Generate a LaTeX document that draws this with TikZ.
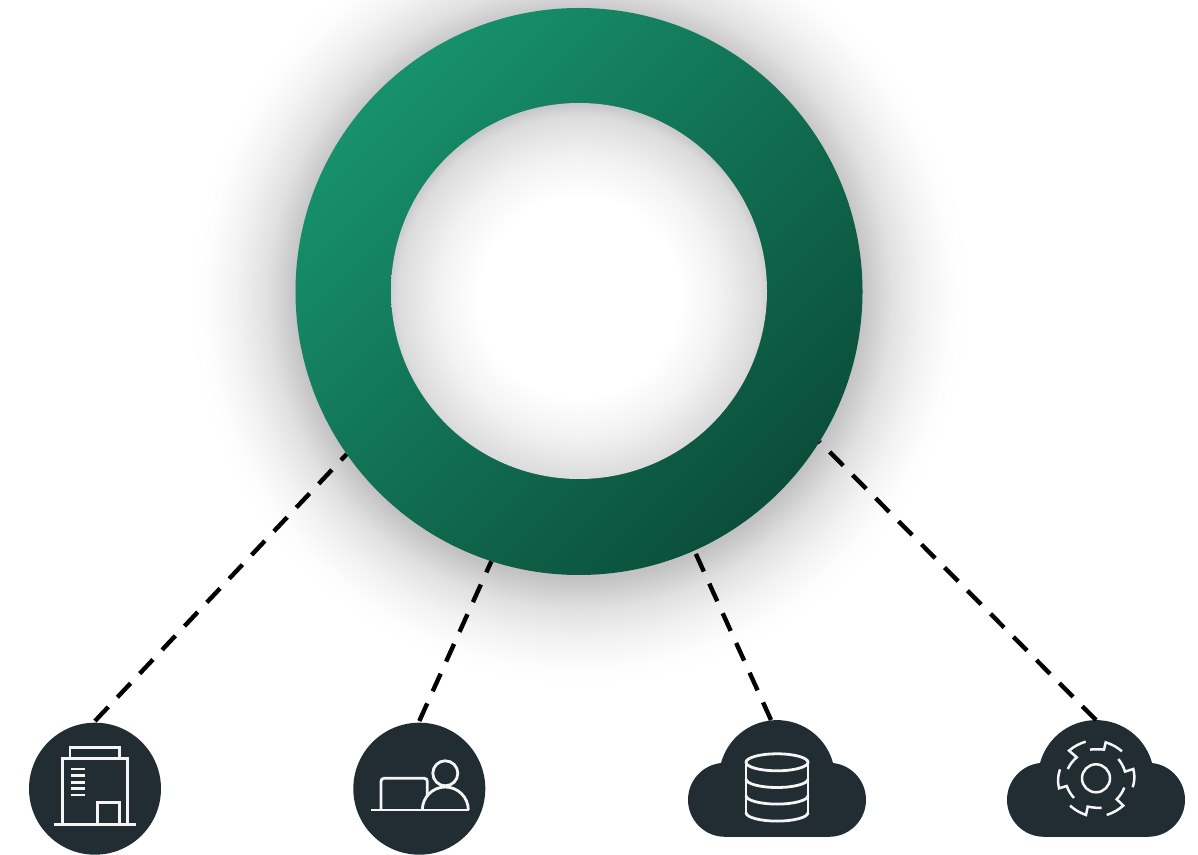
\documentclass[tikz,border=0pt]{standalone}
\usepackage{xcolor}
\usetikzlibrary{calc,positioning}
\definecolor{ringLight}{RGB}{23,145,108}
\definecolor{ringDark}{RGB}{11,78,57}
\definecolor{iconDark}{RGB}{34,44,51}
\definecolor{iconLine}{RGB}{245,245,245}
% Soft shadow around the ring and inside its hole
\pgfdeclareradialshading{ringglow}{\pgfpoint{0cm}{0cm}}{%
  color(0bp)=(black!24); color(18bp)=(black!24); color(20bp)=(black!12);
  color(22bp)=(black!5); color(23.8bp)=(black!1); color(25bp)=(white); color(50bp)=(white)}
\pgfdeclareradialshading{holeglow}{\pgfpoint{0cm}{0cm}}{%
  color(0bp)=(white); color(12.5bp)=(white); color(17.5bp)=(black!5);
  color(22.7bp)=(black!14); color(24.2bp)=(black!22); color(25bp)=(black!24); color(50bp)=(black!24)}
\tikzset{%
  % Specifications for style of nodes:
  glow/.style = {circle, inner sep=0pt, minimum size=780pt, shading=ringglow},
  ringbase/.style = {circle, inner sep=0pt, minimum size=567pt,
    left color=ringLight, right color=ringDark, shading angle=45},
  ringhole/.style = {circle, inner sep=0pt, minimum size=376pt, path picture={
    \shade[shading=holeglow] ([yshift=-6pt]path picture bounding box.center) circle[radius=200pt];}},
  disc/.style = {circle, inner sep=0pt, minimum size=132pt, fill=iconDark},
  dashline/.style = {line width=4.4pt, black, dash pattern=on 19.3pt off 13.3pt},
  iconstroke/.style = {draw=iconLine, line width=2.8pt},
  cloudicon/.pic = {
    \fill[iconDark] (-52,-58.2) arc[start angle=270, delta angle=-174, radius=37]
      -- (-56,15.5) arc[start angle=165, delta angle=-150, radius=58]
      -- (55.87,15.6) arc[start angle=84, delta angle=-174, radius=37] -- cycle;
  },
}
\begin{document}
\begin{tikzpicture}[x=1pt,y=1pt]
  \useasboundingbox (0,0) rectangle (1198,854);
  % Specification of nodes (position, etc.)
  \node(Glow)[glow] at (579,557){};
  \node(Ring)[ringbase] at (579,562.5){};
  \node(Hole)[ringhole] at (579,563){};
  \node(Office)[disc] at (95,65.3){};
  \node(Desk)[disc] at (419.3,65.3){};
  \pic at (777,75.4) {cloudicon};
  \pic at (1096,75.4) {cloudicon};
  \coordinate(Data) at (771,134);
  \coordinate(Gear) at (1096,134);
  % Connectors
  \draw[dashline]([yshift=1.5pt]Office.north) -- (Ring.215.8);
  \draw[dashline]([yshift=1.5pt]Desk.north) -- (Ring.252.6);
  \draw[dashline](Data) -- (Ring.294.1);
  \draw[dashline](Gear) -- (Ring.328.3);
  % Office building
  \begin{scope}[shift={(Office.center)}, iconstroke]
    \draw (-41,-35.6) -- (40.7,-35.6);
    \draw (-32.3,-35.6) -- (-32.3,30.4) -- (32.3,30.4) -- (32.3,-35.6);
    \draw (-25,30.4) -- (-25,41.4) -- (24.3,41.4) -- (24.3,30.4);
    \draw (2.3,-35.6) -- (2.3,-13.6) -- (24.3,-13.6) -- (24.3,-35.6);
    \foreach \wy in {19.7,13,6.4,0.4,-6.3}
      \draw (-24.3,\wy) -- (-10,\wy);
  \end{scope}
  % Person at a laptop
  \begin{scope}[shift={(Desk.center)}, iconstroke]
    \draw (-48.3,-21.3) -- (50,-21.3);
    \draw[rounded corners=3pt] (-38.3,-21.3) -- (-38.3,10.4) -- (8,10.4) -- (8,-7.3);
    \draw (26,15.4) circle[radius=12.5];
    \draw (3,-21.3) arc[start angle=180, end angle=0, radius=23];
  \end{scope}
  % Database
  \begin{scope}[shift={(777,75.4)}, iconstroke]
    \draw (0,16.3) ellipse[x radius=31, y radius=8.5];
    \draw (-31,16.3) -- (-31,-34) (31,16.3) -- (31,-34);
    \foreach \dy in {-0.4,-17,-34}
      \draw (-31,\dy) arc[start angle=180, end angle=360, x radius=31, y radius=8.5];
  \end{scope}
  % Gear
  \begin{scope}[shift={(1096,75.7)}, iconstroke, line width=2.5pt]
    \draw (0,0) circle[radius=14];
    \draw (-6,28.7) to[bend left=5] (8,28.7) -- (9.7,36) to[bend left=10] (26,27);
    \draw (22.3,19.3) to[bend left=10] (29,6.7) -- (37.3,9.3) to[bend left=15] (36.7,-9);
    \draw (28.3,-9.3) to[bend left=10] (20.7,-21) -- (27.3,-27.3) to[bend left=10] (10.7,-36.7);
    \draw (5.7,-29.7) to[bend left=5] (-8.3,-28.3) -- (-10,-36.7) to[bend left=10] (-26,-27.3);
    \draw (-22,-19.7) to[bend left=10] (-29.3,-7.7) -- (-37,-10) to[bend left=15] (-36,9);
    \draw (-28.3,9.3) to[bend left=10] (-19.3,21) -- (-27,27.7) to[bend left=10] (-10.3,36.7);
  \end{scope}
\end{tikzpicture}
\end{document}
